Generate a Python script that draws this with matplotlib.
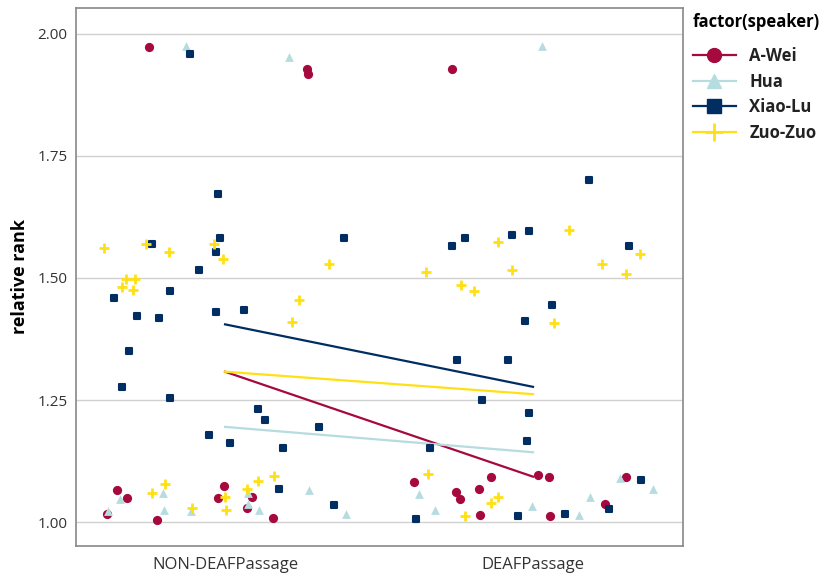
import matplotlib
matplotlib.use("Agg")
import matplotlib.pyplot as plt
from matplotlib.lines import Line2D

plt.rcParams['font.family'] = ['Open Sans', 'DejaVu Sans']

categories = ["NON-DEAFPassage", "DEAFPassage"]
speakers = ["A-Wei", "Hua", "Xiao-Lu", "Zuo-Zuo"]
colors = {"A-Wei": "#A6093D", "Hua": "#B6DCE0", "Xiao-Lu": "#002D62", "Zuo-Zuo": "#FFE014"}

# jittered positions (category index 1/2 plus jitter) and relative rank values
awei_x = [0.753, 1.265, 1.270, 1.736, 0.648, 0.683, 0.618, 0.778, 0.996, 0.978, 1.089, 1.070, 1.155,
          1.612, 1.750, 1.762, 1.824, 1.864, 1.828, 2.017, 2.053, 2.055, 2.233, 2.302]
awei_y = [1.973, 1.928, 1.918, 1.928, 1.065, 1.049, 1.017, 1.004, 1.073, 1.049, 1.051, 1.028, 1.008,
          1.082, 1.061, 1.047, 1.067, 1.093, 1.014, 1.096, 1.093, 1.012, 1.038, 1.093]

hua_x = [0.874, 1.208, 2.029, 0.660, 0.619, 0.799, 0.802, 0.889, 1.075, 1.074, 1.111, 1.272, 1.393,
         1.631, 1.682, 1.998, 2.150, 2.186, 2.282, 2.390]
hua_y = [1.975, 1.952, 1.975, 1.048, 1.023, 1.059, 1.025, 1.023, 1.059, 1.038, 1.024, 1.066, 1.016,
         1.058, 1.024, 1.032, 1.014, 1.051, 1.090, 1.068]

xiaolu_x = [0.886, 0.977, 0.763, 0.984, 0.971, 0.917, 1.387, 0.822, 0.641, 0.713, 0.787, 0.970, 1.061,
            0.688, 0.666, 0.822, 1.106, 1.130, 0.949, 1.015, 1.188, 1.306, 1.176, 1.353,
            2.183, 1.736, 1.778, 1.932, 1.987, 2.313, 2.061, 1.974, 1.753, 1.918, 1.833, 1.987,
            1.980, 1.666, 1.619, 1.950, 2.104, 2.248, 2.349]
xiaolu_y = [1.958, 1.672, 1.570, 1.581, 1.554, 1.516, 1.581, 1.474, 1.458, 1.423, 1.418, 1.431, 1.434,
            1.350, 1.277, 1.255, 1.232, 1.210, 1.179, 1.163, 1.152, 1.195, 1.067, 1.036,
            1.701, 1.566, 1.581, 1.589, 1.597, 1.566, 1.445, 1.412, 1.331, 1.331, 1.250, 1.223,
            1.167, 1.152, 1.007, 1.012, 1.016, 1.027, 1.087]

zuozuo_x = [0.607, 0.742, 0.818, 0.963, 0.994, 1.337, 0.677, 0.709, 0.665, 0.701, 1.240, 1.219,
            0.804, 0.762, 0.892, 1.000, 1.003, 1.070, 1.106, 1.160,
            1.653, 1.886, 1.932, 2.117, 2.224, 2.301, 2.346, 1.765, 1.808, 2.068, 1.658, 1.885,
            1.863, 1.780]
zuozuo_y = [1.562, 1.570, 1.554, 1.570, 1.539, 1.529, 1.497, 1.497, 1.481, 1.476, 1.455, 1.410,
            1.079, 1.059, 1.029, 1.052, 1.025, 1.067, 1.084, 1.094,
            1.513, 1.574, 1.516, 1.599, 1.529, 1.508, 1.549, 1.485, 1.473, 1.408, 1.099, 1.051,
            1.040, 1.012]

# fitted lines: value at NON-DEAFPassage and DEAFPassage
line_start = [1.308, 1.195, 1.405, 1.308]
line_end = [1.093, 1.143, 1.277, 1.262]

yticks = [1.00, 1.25, 1.50, 1.75, 2.00]

fig = plt.figure(figsize=(8.31, 5.76), dpi=100)
ax = fig.add_axes([76/831, 30/576, (683-76)/831, (546-8)/576])

data = {
    "A-Wei": (awei_x, awei_y, 'o', 44, 0),
    "Hua": (hua_x, hua_y, '^', 40, 0),
    "Xiao-Lu": (xiaolu_x, xiaolu_y, 's', 24, 1.5),
    "Zuo-Zuo": (zuozuo_x, zuozuo_y, '+', 48, 2.0),
}

for i, sp in enumerate(speakers):
    xs, ys, m, s, lw = data[sp]
    c = colors[sp]
    if m == '+':
        ax.scatter(xs, ys, marker=m, s=s, color=c, linewidths=lw, zorder=3)
    elif m == 's':
        ax.scatter(xs, ys, marker=m, s=s, color=c, edgecolors=c, linewidths=lw, zorder=3)
    else:
        ax.scatter(xs, ys, marker=m, s=s, color=c, linewidths=0, zorder=3)

for i, sp in enumerate(speakers):
    ax.plot([1, 2], [line_start[i], line_end[i]], color=colors[sp], lw=1.6, zorder=2)

ax.set_xlim(0.516, 2.487)
ax.set_ylim(0.951, 2.053)
ax.set_xticks([1, 2])
ax.set_xticklabels(categories, fontsize=12, color='#333333')
ax.set_yticks(yticks)
ax.set_yticklabels([f"{v:.2f}" for v in yticks], fontsize=11, color='#333333')
ax.tick_params(length=0, pad=8)
ax.tick_params(axis='y', pad=6)
ax.yaxis.grid(True, color='#D0D0D0', lw=1)
ax.xaxis.grid(False)
ax.set_axisbelow(True)
for sp in ax.spines.values():
    sp.set_color('#888888')
    sp.set_linewidth(1.2)
ax.set_ylabel("relative rank", fontsize=13, fontweight='bold', labelpad=6)

handles = []
for sp in speakers:
    xs, ys, m, s, lw = data[sp]
    handles.append(Line2D([0], [0], color=colors[sp], lw=1.6, marker=m,
                          markersize=10 if m != '+' else 13,
                          markeredgewidth=2 if m == '+' else 1,
                          markeredgecolor=colors[sp]))
leg = fig.legend(handles, speakers, title="factor(speaker)", loc='upper left',
                 bbox_to_anchor=(686/831, 1 - 6/576), frameon=False,
                 prop={'size': 12, 'weight': 'bold'}, handlelength=2.6,
                 labelspacing=0.45, borderaxespad=0, alignment='left')
leg.get_title().set_fontsize(12)
leg.get_title().set_fontweight('bold')
leg._legend_box.sep = 12
for t in leg.get_texts():
    t.set_color('#222222')

fig.savefig("out.png", dpi=100)
